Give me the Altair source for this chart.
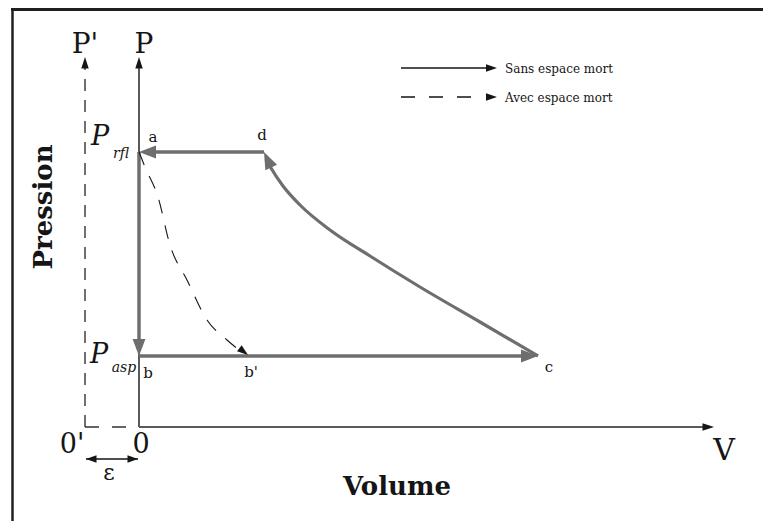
import altair as alt
import pandas as pd

FONT = "DejaVu Serif"
GREY = "#6e6e6e"
AXIS_GREY = "#5a5a5a"
INK = "#151515"

# ---------------- data (x = volume units, y = pressure units) ----------------
P_RFL = 2.75
P_ASP = 0.71
V_D = 1.25
V_C = 3.99
V_BP = 1.08
P_TOP = 3.70      # tip of the P and P' axes
V_END = 5.75      # tip of the V axis
V_PRIME = -0.54   # position of the 0' / P' axis

# compression curve c -> d
comp_V = [3.99, 3.41, 2.81, 2.31, 1.91, 1.61, 1.44, 1.32, 1.27]
comp_P = [0.71, 1.05, 1.40, 1.71, 1.97, 2.22, 2.41, 2.59, 2.68]
# re-expansion curve a -> b' (with dead space)
exp_V = [0.0, 0.06, 0.19, 0.31, 0.48, 0.68, 0.88, 1.04]
exp_P = [2.75, 2.60, 2.30, 1.82, 1.47, 1.07, 0.87, 0.74]

# straight cycle segments: d->a, a->b, b->c
cyc_V1 = [V_D, 0.0, 0.0]
cyc_P1 = [P_RFL, P_RFL, P_ASP]
cyc_V2 = [0.10, 0.0, 3.88]
cyc_P2 = [P_RFL, 0.84, P_ASP]
# grey arrow heads at a, b, c, d
head_V = [0.0, 0.0, V_C, V_D]
head_P = [P_RFL, P_ASP, P_ASP, P_RFL]
head_A = [270, 180, 90, 335]

# axes P and V
ax_V1 = [0.0, 0.0]
ax_P1 = [0.0, 0.0]
ax_V2 = [0.0, 5.65]
ax_P2 = [3.60, 0.0]
axhead_V = [0.0, V_END, V_PRIME]
axhead_P = [P_TOP, 0.0, P_TOP]
axhead_A = [0, 90, 0]

# epsilon double arrow
eps_P = -0.32
eps_head_V = [-0.53, -0.01]
eps_head_A = [270, 90]

# legend
leg_P = [3.59, 3.30]
leg_V1 = 2.62
leg_V2_solid = 3.50
leg_V2_dash = 3.33
leg_tip = 3.58
leg_text = ["Sans espace mort", "Avec espace mort"]
leg_text_P = [3.54, 3.25]
leg_text_V = 3.66

# labels
big_labels = ["P'", "P"]
big_V = [-0.54, 0.05]
big_P = [3.74, 3.74]
zero_labels = ["0'", "0"]
zero_V = [-0.67, 0.02]
zero_P = [-0.26, -0.26]
pt_labels = ["a", "d", "b", "b'", "c"]
pt_V = [0.14, 1.23, 0.09, 1.12, 4.10]
pt_P = [2.85, 2.87, 0.49, 0.50, 0.55]
Pvar_V = [-0.39, -0.40]
Pvar_P = [2.82, 0.64]
sub_labels = ["rfl", "asp"]
sub_V = [-0.18, -0.15]
sub_P = [2.69, 0.55]

# ---------------- scales ----------------
XS = alt.Scale(domain=[-1.31, 6.24], nice=False, zero=False)
YS = alt.Scale(domain=[-0.94, 4.19], nice=False, zero=False)


def X(f="V"):
    return alt.X(f"{f}:Q", scale=XS, axis=None)


def Y(f="P"):
    return alt.Y(f"{f}:Q", scale=YS, axis=None)


def head_shape(w):
    return f"M0,0L{-w},2L{w},2Z"


def rules(df, color, width, dash=None):
    kw = dict(color=color, strokeWidth=width)
    if dash:
        kw["strokeDash"] = dash
    return alt.Chart(df).mark_rule(**kw).encode(
        x=X("V"), x2="V2:Q", y=Y("P"), y2="P2:Q")


def heads(df, color, w, size):
    return alt.Chart(df).mark_point(
        shape=head_shape(w), filled=True, color=color, size=size, opacity=1
    ).encode(x=X(), y=Y(), angle=alt.Angle("A:Q", scale=None))


def texts(df, size, weight="normal", style="normal", align="center",
          angle=0, baseline="alphabetic"):
    return alt.Chart(df).mark_text(
        font=FONT, fontSize=size, fontWeight=weight, fontStyle=style,
        align=align, baseline=baseline, angle=angle, color=INK
    ).encode(x=X(), y=Y(), text="t:N")


one = pd.DataFrame({"k": [0]})

frame_top = alt.Chart(one).mark_rule(color="#231f20", strokeWidth=3).encode(
    x=alt.value(3), x2=alt.value(755), y=alt.value(1.5))
frame_left = alt.Chart(one).mark_rule(color="#231f20", strokeWidth=2.5).encode(
    x=alt.value(4.5), y=alt.value(0), y2=alt.value(513))

axes = rules(pd.DataFrame({"V": ax_V1, "P": ax_P1, "V2": ax_V2, "P2": ax_P2}),
             AXIS_GREY, 2)
prime_v = rules(pd.DataFrame({"V": [V_PRIME], "P": [0.0], "V2": [V_PRIME], "P2": [3.61]}),
                "#333333", 1.4, [12, 9])
prime_h = rules(pd.DataFrame({"V": [V_PRIME], "P": [0.0], "V2": [0.0], "P2": [0.0]}),
                "#333333", 1.4, [14, 13])
ax_heads = heads(pd.DataFrame({"V": axhead_V, "P": axhead_P, "A": axhead_A}),
                 INK, 0.65, 132)

cycle = rules(pd.DataFrame({"V": cyc_V1, "P": cyc_P1, "V2": cyc_V2, "P2": cyc_P2}),
              GREY, 3.5)
comp = alt.Chart(pd.DataFrame({"V": comp_V, "P": comp_P, "o": list(range(len(comp_V)))})
                 ).mark_line(color=GREY, strokeWidth=3.2, interpolate="monotone").encode(
    x=X(), y=Y(), order="o:Q")
cyc_heads = heads(pd.DataFrame({"V": head_V, "P": head_P, "A": head_A}),
                  GREY, 0.76, 289)

expn = alt.Chart(pd.DataFrame({"V": exp_V, "P": exp_P, "o": list(range(len(exp_V)))})
                 ).mark_line(color=INK, strokeWidth=1.1, strokeDash=[14, 12],
                             interpolate="monotone").encode(x=X(), y=Y(), order="o:Q")
exp_head = heads(pd.DataFrame({"V": [V_BP + 0.01], "P": [P_ASP + 0.01], "A": [128]}),
                 INK, 0.68, 121)

eps_line = rules(pd.DataFrame({"V": [eps_head_V[0]], "P": [eps_P],
                               "V2": [eps_head_V[1]], "P2": [eps_P]}), INK, 1.5)
eps_heads = heads(pd.DataFrame({"V": eps_head_V, "P": [eps_P, eps_P], "A": eps_head_A}),
                  INK, 0.7, 110)

leg_solid = rules(pd.DataFrame({"V": [leg_V1], "P": [leg_P[0]], "V2": [leg_V2_solid], "P2": [leg_P[0]]}),
                  INK, 1.5)
leg_dash = rules(pd.DataFrame({"V": [leg_V1], "P": [leg_P[1]], "V2": [leg_V2_dash], "P2": [leg_P[1]]}),
                 INK, 1.5, [14, 14])
leg_heads = heads(pd.DataFrame({"V": [leg_tip, leg_tip], "P": leg_P, "A": [90, 90]}),
                  INK, 0.68, 121)
leg_txt = texts(pd.DataFrame({"V": [leg_text_V] * 2, "P": leg_text_P, "t": leg_text}),
                12, align="left")

t_big = texts(pd.DataFrame({"V": big_V, "P": big_P, "t": big_labels}), 28)
t_V = texts(pd.DataFrame({"V": [5.85], "P": [-0.33], "t": ["V"]}), 30)
t_zero = texts(pd.DataFrame({"V": zero_V, "P": zero_P, "t": zero_labels}), 27)
t_eps = texts(pd.DataFrame({"V": [-0.30], "P": [-0.53], "t": ["ε"]}), 22)
t_vol = texts(pd.DataFrame({"V": [2.58], "P": [-0.68], "t": ["Volume"]}), 26, weight="bold")
t_pres = texts(pd.DataFrame({"V": [-0.95], "P": [2.20], "t": ["Pression"]}), 26,
               weight="bold", angle=270, baseline="middle")
t_pts = texts(pd.DataFrame({"V": pt_V, "P": pt_P, "t": pt_labels}), 15)
t_Pvar = texts(pd.DataFrame({"V": Pvar_V, "P": Pvar_P, "t": ["P", "P"]}), 27, style="italic")
t_sub = texts(pd.DataFrame({"V": sub_V, "P": sub_P, "t": sub_labels}), 14, style="italic")

chart = alt.layer(
    frame_top, frame_left, axes, prime_v, prime_h, ax_heads,
    cycle, comp, cyc_heads, expn, exp_head,
    eps_line, eps_heads, leg_solid, leg_dash, leg_heads, leg_txt,
    t_big, t_V, t_zero, t_eps, t_vol, t_pres, t_pts, t_Pvar, t_sub,
).properties(
    width=755, height=513, autosize=alt.AutoSizeParams(type="none"), padding=0,
    background="white",
).configure_view(stroke=None)

chart.save("out.html", embed_options={"renderer": "svg", "actions": False})
